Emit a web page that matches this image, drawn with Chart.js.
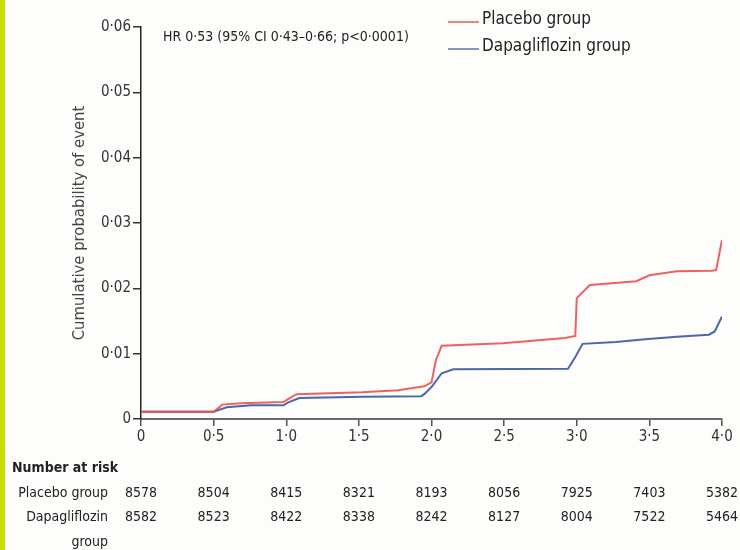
<!DOCTYPE html>
<html lang="en">
<head>
    <meta charset="UTF-8">
    <title>Cumulative probability of event</title>
    <script src="https://cdn.jsdelivr.net/npm/chart.js"></script>
    <style>
        body {
            margin: 0;
            background: #fdfdfb;
        }
        .wrap {
            position: relative;
            width: 740px;
            height: 550px;
        }
        .bar {
            position: absolute;
            left: 0;
            top: 0;
            width: 5px;
            height: 550px;
            background: #c8dc00;
        }
    </style>
</head>
<body>
    <div class="wrap">
        <canvas id="kmChart" width="740" height="550"></canvas>
        <div class="bar"></div>
    </div>

    <script>
        // years since randomisation, cumulative probability
        const placeboT = [0, 0.5, 0.56, 0.69, 0.98, 1.01, 1.07, 1.52, 1.77, 1.95, 2.0, 2.03, 2.07, 2.49, 2.92, 2.99, 3.0, 3.09, 3.41, 3.5, 3.69, 3.93, 3.96, 4.0];
        const placeboP = [0.0011, 0.0011, 0.0022, 0.0024, 0.0026, 0.0030, 0.0038, 0.0041, 0.0044, 0.0050, 0.0056, 0.0090, 0.0112, 0.0116, 0.0124, 0.0127, 0.0185, 0.0205, 0.0211, 0.0220, 0.0226, 0.0227, 0.0228, 0.0274];

        const dapaT = [0, 0.5, 0.59, 0.76, 0.98, 1.01, 1.09, 1.53, 1.93, 1.95, 2.0, 2.07, 2.15, 2.94, 2.99, 3.04, 3.27, 3.47, 3.69, 3.91, 3.95, 4.0];
        const dapaP = [0.0011, 0.0011, 0.0018, 0.0021, 0.0021, 0.0025, 0.0032, 0.0034, 0.0035, 0.0038, 0.0049, 0.0070, 0.0076, 0.0077, 0.0095, 0.0115, 0.0118, 0.0122, 0.0126, 0.0129, 0.0134, 0.0157];

        const riskTimes = [0, 0.5, 1.0, 1.5, 2.0, 2.5, 3.0, 3.5, 4.0];
        const placeboRisk = [8578, 8504, 8415, 8321, 8193, 8056, 7925, 7403, 5382];
        const dapaRisk = [8582, 8523, 8422, 8338, 8242, 8127, 8004, 7522, 5464];

        const seriesNames = ['Placebo group', 'Dapagliflozin group'];
        const hrText = 'HR 0·53 (95% CI 0·43–0·66; p<0·0001)';

        const FONT = "'Liberation Sans Narrow', 'DejaVu Sans Condensed', sans-serif";

        function dot(v, digits) {
            if (v === 0) return '0';
            return v.toFixed(digits).replace('.', '·');
        }

        const extrasPlugin = {
            id: 'extras',
            afterDraw(chart) {
                const ctx = chart.ctx;
                const xs = chart.scales.x;
                ctx.save();

                // HR annotation
                ctx.fillStyle = '#222';
                ctx.font = '14px ' + FONT;
                ctx.textBaseline = 'middle';
                ctx.textAlign = 'left';
                ctx.fillText(hrText, 163, 37);

                // legend
                const legendCols = ['rgb(240,130,130)', 'rgb(130,150,195)'];
                const legendY = [22, 49];
                ctx.font = '17px ' + FONT;
                seriesNames.forEach((name, i) => {
                    ctx.strokeStyle = legendCols[i];
                    ctx.lineWidth = 2;
                    ctx.beginPath();
                    ctx.moveTo(448, legendY[i]);
                    ctx.lineTo(479, legendY[i]);
                    ctx.stroke();
                    ctx.fillStyle = '#222';
                    ctx.fillText(name, 482, legendY[i] - 2);
                });

                // number at risk table
                ctx.fillStyle = '#222';
                ctx.font = 'bold 14px ' + FONT;
                ctx.textAlign = 'left';
                ctx.fillText('Number at risk', 12, 468);

                ctx.font = '14px ' + FONT;
                ctx.textAlign = 'right';
                ctx.fillText('Placebo group', 108, 493);
                ctx.fillText('Dapagliflozin', 108, 517);
                ctx.fillText('group', 108, 542);

                ctx.textAlign = 'center';
                riskTimes.forEach((t, i) => {
                    const px = xs.getPixelForValue(t);
                    ctx.fillText(String(placeboRisk[i]), px, 493);
                    ctx.fillText(String(dapaRisk[i]), px, 517);
                });

                ctx.restore();
            }
        };

        const ctx = document.getElementById('kmChart').getContext('2d');

        new Chart(ctx, {
            type: 'scatter',
            data: {
                datasets: [
                    {
                        label: seriesNames[0],
                        data: placeboT.map((t, i) => ({ x: t, y: placeboP[i] })),
                        showLine: true,
                        borderColor: 'rgba(236,80,80,0.9)',
                        borderWidth: 2,
                        pointRadius: 0,
                        tension: 0
                    },
                    {
                        label: seriesNames[1],
                        data: dapaT.map((t, i) => ({ x: t, y: dapaP[i] })),
                        showLine: true,
                        borderColor: 'rgba(55,85,160,0.9)',
                        borderWidth: 2,
                        pointRadius: 0,
                        tension: 0
                    }
                ]
            },
            options: {
                responsive: false,
                animation: false,
                layout: {
                    padding: { top: 27, right: 18, bottom: 101, left: 0 }
                },
                plugins: {
                    legend: { display: false },
                    tooltip: { enabled: false }
                },
                scales: {
                    x: {
                        type: 'linear',
                        min: 0,
                        max: 4,
                        afterFit: s => { s.height = 30; },
                        border: { display: true, color: '#6a6a6a', width: 2 },
                        grid: {
                            display: true,
                            drawOnChartArea: false,
                            drawTicks: true,
                            tickLength: 7,
                            color: '#555',
                            lineWidth: 1.5
                        },
                        ticks: {
                            stepSize: 0.5,
                            padding: 2,
                            color: '#333',
                            font: { family: FONT, size: 15 },
                            callback: v => dot(v, 1)
                        }
                    },
                    y: {
                        min: 0,
                        max: 0.06,
                        afterFit: s => { s.width = 141; },
                        border: { display: true, color: '#222', width: 1.5 },
                        grid: {
                            display: true,
                            drawOnChartArea: false,
                            drawTicks: true,
                            tickLength: 8,
                            color: '#333',
                            lineWidth: 1.5
                        },
                        ticks: {
                            stepSize: 0.01,
                            padding: 2,
                            color: '#333',
                            font: { family: FONT, size: 15 },
                            callback: v => dot(v, 2)
                        },
                        title: {
                            display: true,
                            text: 'Cumulative probability of event',
                            color: '#444',
                            font: { family: FONT, size: 16.5 },
                            padding: { top: 70, bottom: 0 }
                        }
                    }
                }
            },
            plugins: [extrasPlugin]
        });
    </script>
</body>
</html>
